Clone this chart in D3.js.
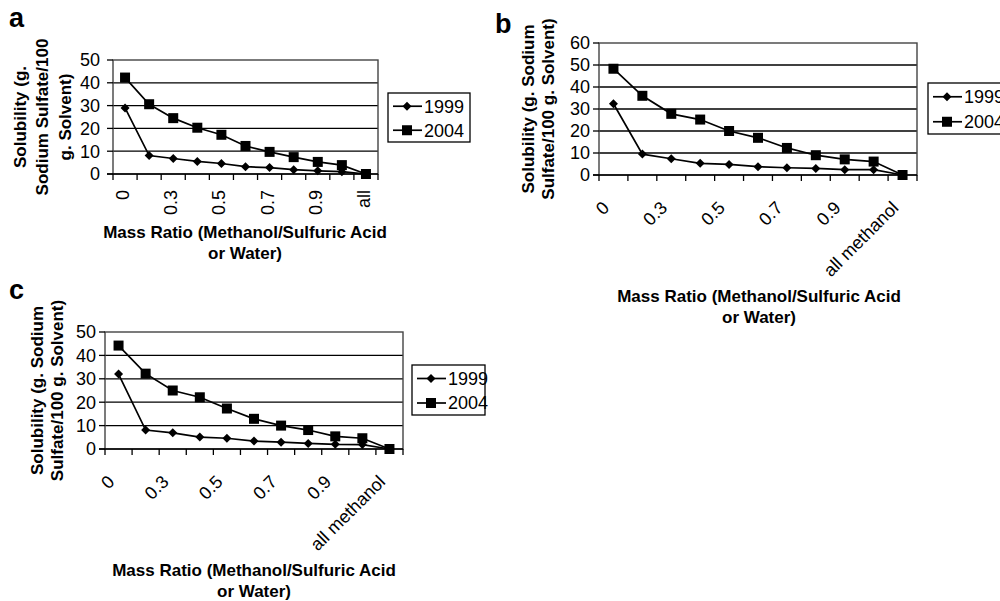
<!DOCTYPE html>
<html>
<head>
<meta charset="utf-8">
<script src="https://cdn.jsdelivr.net/npm/d3@7"></script>
<style>
  body { margin: 0; background: #fff; }
  svg { display: block; font-family: "Liberation Sans", Arial, sans-serif; }
</style>
</head>
<body>
<svg id="chart" width="1000" height="601"></svg>
<script>
// categories along the x axis (only every other one gets a label)
const categories = ['0', '0.2', '0.3', '0.4', '0.5', '0.6', '0.7', '0.8', '0.9', '1', 'all methanol'];
const tickLabelsA = ['0', '0.3', '0.5', '0.7', '0.9', 'all'];
const tickLabelsBC = ['0', '0.3', '0.5', '0.7', '0.9', 'all methanol'];
const seriesNames = ['1999', '2004'];

// panel a
const a1999 = [29, 8.1, 6.8, 5.5, 4.6, 3.2, 2.8, 1.9, 1.4, 1.0, 0];
const a2004 = [42.3, 30.6, 24.5, 20.3, 17.2, 12.3, 9.7, 7.4, 5.3, 3.9, 0];
// panel b
const b1999 = [32.4, 9.5, 7.4, 5.3, 4.8, 3.8, 3.3, 3.0, 2.4, 2.4, 0];
const b2004 = [48.3, 36.0, 27.8, 25.2, 20.0, 16.9, 12.3, 9.0, 7.1, 6.1, 0];
// panel c
const c1999 = [32, 8.1, 6.9, 5.1, 4.6, 3.4, 2.9, 2.4, 2.0, 1.9, 0];
const c2004 = [44.2, 32.2, 25.0, 22.1, 17.3, 12.9, 10.0, 8.1, 5.4, 4.6, 0];

const yTicksA = [0, 10, 20, 30, 40, 50];
const yTicksB = [0, 10, 20, 30, 40, 50, 60];
const yTicksC = [0, 10, 20, 30, 40, 50];

const xTitle = ['Mass Ratio (Methanol/Sulfuric Acid', 'or Water)'];

const svg = d3.select('#chart');

const panels = [
  {
    letter: 'a', letterPos: [9, 27],
    left: 113, right: 378, top: 60, bottom: 174,
    yMax: 50, yTicks: yTicksA, s1999: a1999, s2004: a2004, labelGap: 13,
    tickLabels: tickLabelsA, rotate: -90,
    yTitle: ['Solubility (g.', 'Sodium Sulfate/100', 'g. Solvent)'], yTitleX: 20, yTitleGap: 22.5,
    xTitleX: 245, xTitleY: 238,
    legend: [388, 93, 82, 49]
  },
  {
    letter: 'b', letterPos: [495, 33],
    left: 599, right: 917, top: 43, bottom: 175,
    yMax: 60, yTicks: yTicksB, s1999: b1999, s2004: b2004, labelGap: 9,
    tickLabels: tickLabelsBC, rotate: -45,
    yTitle: ['Solubility (g. Sodium', 'Sulfate/100 g. Solvent)'], yTitleX: 528, yTitleGap: 20.5,
    xTitleX: 759, xTitleY: 302,
    legend: [928, 83, 82, 51]
  },
  {
    letter: 'c', letterPos: [9, 299],
    left: 105, right: 403, top: 332, bottom: 449,
    yMax: 50, yTicks: yTicksC, s1999: c1999, s2004: c2004, labelGap: 9,
    tickLabels: tickLabelsBC, rotate: -45,
    yTitle: ['Solubility (g. Sodium', 'Sulfate/100 g. Solvent)'], yTitleX: 37, yTitleGap: 20.5,
    xTitleX: 254, xTitleY: 576,
    legend: [412, 365, 73, 50]
  }
];

function diamond(g, cx, cy, r) {
  g.append('path')
    .attr('d', `M${cx},${cy - r}L${cx + r},${cy}L${cx},${cy + r}L${cx - r},${cy}Z`)
    .attr('fill', '#000');
}
function square(g, cx, cy, s) {
  g.append('rect')
    .attr('x', cx - s / 2).attr('y', cy - s / 2)
    .attr('width', s).attr('height', s)
    .attr('fill', '#000');
}

panels.forEach(p => {
  const g = svg.append('g');

  const x = d3.scaleBand().domain(categories).range([p.left, p.right]);
  const y = d3.scaleLinear().domain([0, p.yMax]).range([p.bottom, p.top]);
  const cx = d => x(d) + x.bandwidth() / 2;

  // panel letter
  g.append('text')
    .attr('x', p.letterPos[0]).attr('y', p.letterPos[1])
    .style('font-size', '27px').style('font-weight', '700')
    .text(p.letter);

  // gridlines
  g.selectAll('.grid')
    .data(p.yTicks.filter(t => t > 0 && t < p.yMax))
    .enter().append('line')
    .attr('x1', p.left).attr('x2', p.right)
    .attr('y1', d => y(d)).attr('y2', d => y(d))
    .attr('stroke', '#000').attr('stroke-width', 1.3);

  // plot frame
  g.append('rect')
    .attr('x', p.left).attr('y', p.top)
    .attr('width', p.right - p.left).attr('height', p.bottom - p.top)
    .attr('fill', 'none').attr('stroke', '#444').attr('stroke-width', 1.4);

  // y ticks + labels
  g.selectAll('.ytick')
    .data(p.yTicks)
    .enter().append('line')
    .attr('x1', p.left - 6).attr('x2', p.left)
    .attr('y1', d => y(d)).attr('y2', d => y(d))
    .attr('stroke', '#000').attr('stroke-width', 1.3);
  g.selectAll('.ylab')
    .data(p.yTicks)
    .enter().append('text')
    .attr('x', p.left - p.labelGap).attr('y', d => y(d))
    .attr('dy', '0.36em')
    .attr('text-anchor', 'end')
    .style('font-size', '18px')
    .text(d => d);

  // x axis line + ticks at category boundaries
  g.append('line')
    .attr('x1', p.left - 6).attr('x2', p.right)
    .attr('y1', p.bottom).attr('y2', p.bottom)
    .attr('stroke', '#000').attr('stroke-width', 1.6);
  const bounds = categories.map(c => x(c)).concat([p.right]);
  g.selectAll('.xtick')
    .data(bounds)
    .enter().append('line')
    .attr('x1', d => d).attr('x2', d => d)
    .attr('y1', p.bottom).attr('y2', p.bottom + 6)
    .attr('stroke', '#000').attr('stroke-width', 1.3);

  // x tick labels (every other category)
  const labelled = categories.filter((c, i) => i % 2 === 0);
  g.selectAll('.xlab')
    .data(labelled)
    .enter().append('text')
    .attr('transform', d => p.rotate === -90
      ? `translate(${cx(d) + 4},${p.bottom + 16}) rotate(-90)`
      : `translate(${cx(d) - 3},${p.bottom + 34}) rotate(-45)`)
    .attr('text-anchor', 'end')
    .style('font-size', '18px')
    .text((d, i) => p.tickLabels[i]);

  // series lines + markers
  const line = d3.line().x((v, i) => cx(categories[i])).y(v => y(v));
  [p.s1999, p.s2004].forEach((vals, si) => {
    g.append('path')
      .attr('d', line(vals))
      .attr('fill', 'none').attr('stroke', '#000').attr('stroke-width', 1.7);
    vals.forEach((v, i) => {
      if (si === 0) diamond(g, cx(categories[i]), y(v), 4.5);
      else square(g, cx(categories[i]), y(v), 10);
    });
  });

  // y axis title
  const yt = g.append('text')
    .attr('transform', `translate(${p.yTitleX},${(p.top + p.bottom) / 2}) rotate(-90)`)
    .attr('text-anchor', 'middle')
    .style('font-size', '17px').style('font-weight', '700');
  p.yTitle.forEach((t, i) => {
    yt.append('tspan').attr('x', 0).attr('y', i * p.yTitleGap).attr('dy', '0.35em').text(t);
  });

  // x axis title
  xTitle.forEach((t, i) => {
    g.append('text')
      .attr('x', p.xTitleX).attr('y', p.xTitleY + i * 21)
      .attr('text-anchor', 'middle')
      .style('font-size', '17px').style('font-weight', '700')
      .text(t);
  });

  // legend (panel b's box runs off the right edge, as in the original)
  const [lx, ly, lw, lh] = p.legend;
  g.append('rect')
    .attr('x', lx).attr('y', ly).attr('width', lw).attr('height', lh)
    .attr('fill', '#fff').attr('stroke', '#000').attr('stroke-width', 1.3);
  seriesNames.forEach((name, i) => {
    const ry = ly + lh * (i === 0 ? 0.27 : 0.76);
    g.append('line')
      .attr('x1', lx + 5).attr('x2', lx + 34)
      .attr('y1', ry).attr('y2', ry)
      .attr('stroke', '#000').attr('stroke-width', 1.7);
    if (i === 0) diamond(g, lx + 19, ry, 4.5);
    else square(g, lx + 19, ry, 10);
    g.append('text')
      .attr('x', lx + 36).attr('y', ry).attr('dy', '0.36em')
      .style('font-size', '18px')
      .text(name);
  });
});
</script>
</body>
</html>
